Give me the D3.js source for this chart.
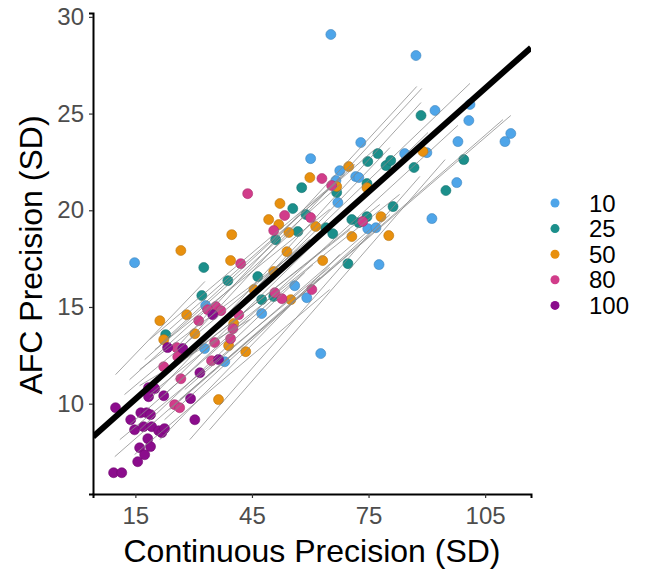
<!DOCTYPE html>
<html>
<head>
<meta charset="utf-8">
<script src="https://cdn.jsdelivr.net/npm/d3@7"></script>
<style>
  body { margin: 0; background: #fff; }
  svg { display: block; }
</style>
</head>
<body>
<svg id="chart" width="666" height="584"></svg>
<script>
// set-size groups and their colours
const groups = ['10', '25', '50', '80', '100']
const groupColors = ['#4EA5E9', '#1B8F8B', '#E8900E', '#D13C8A', '#8B0C8C']

const xTicks = [15, 45, 75, 105]
const yTicks = [10, 15, 20, 25, 30]

// [continuous SD, AFC SD] per group
const points10 = [
  [65.3, 29.09], [87.2, 28.0], [92.1, 25.16], [101.1, 25.47], [100.8, 24.64], [111.6, 23.97],
  [110.1, 23.55], [73.0, 23.5], [98.0, 23.55], [90.0, 22.98], [84.3, 22.93], [60.1, 22.67],
  [67.6, 22.05], [71.7, 21.74], [72.5, 21.69], [66.6, 21.54], [97.7, 21.43], [67.1, 20.4],
  [91.3, 19.57], [74.8, 19.05], [76.9, 19.1], [77.7, 17.19], [59.1, 15.48], [62.7, 12.59],
  [14.8, 17.29], [56.0, 16.1], [47.5, 14.66], [33.1, 15.07], [32.8, 12.85], [38.0, 12.17]
]
const points25 = [
  [88.5, 24.9], [77.4, 22.93], [74.8, 22.52], [79.5, 22.31], [80.7, 22.57], [86.7, 22.21],
  [99.5, 22.62], [94.9, 21.02], [57.8, 21.17], [55.5, 20.09], [58.9, 19.78], [56.8, 18.9],
  [51.1, 18.48], [65.8, 18.79], [66.8, 20.92], [74.6, 21.38], [81.3, 20.19], [64.0, 19.1],
  [70.7, 19.52], [72.5, 19.36], [74.6, 19.67], [69.7, 17.24], [32.6, 17.04], [38.8, 16.36],
  [46.5, 16.57], [47.5, 15.38], [50.6, 15.54], [32.1, 15.59], [22.8, 13.57]
]
const points50 = [
  [59.9, 21.69], [52.2, 20.35], [49.3, 19.52], [51.9, 19.26], [54.5, 18.85], [39.8, 18.74],
  [26.7, 17.92], [69.9, 22.26], [66.8, 21.23], [74.6, 21.17], [89.0, 23.04], [61.4, 19.16],
  [70.7, 18.64], [80.2, 18.69], [78.2, 19.67], [63.2, 17.4], [39.5, 17.4], [54.0, 17.86],
  [50.6, 16.83], [45.5, 15.9], [55.0, 15.38], [28.2, 14.6], [21.3, 14.29], [22.3, 13.31],
  [30.3, 13.62], [40.3, 14.14], [39.0, 13.0], [43.4, 12.69], [36.4, 10.21]
]
const points80 = [
  [43.9, 20.86], [53.4, 19.73], [50.6, 18.95], [63.0, 21.64], [65.5, 21.28], [60.1, 19.62],
  [73.5, 19.42], [60.4, 15.9], [42.1, 17.24], [50.9, 15.74], [52.7, 15.43], [35.7, 15.02],
  [33.6, 14.86], [37.0, 14.81], [31.3, 14.29], [41.6, 14.6], [40.1, 13.88], [39.5, 13.36],
  [35.4, 13.16], [25.6, 12.9], [25.9, 12.43], [34.6, 12.22], [22.3, 11.91], [26.7, 11.29],
  [25.1, 9.95], [26.4, 9.79]
]
const points100 = [
  [34.9, 14.6], [23.3, 12.9], [27.2, 12.85], [36.4, 12.28], [31.6, 11.6], [18.4, 10.83],
  [20.0, 10.78], [18.4, 10.36], [22.3, 10.41], [29.2, 10.26], [9.9, 9.79], [16.4, 9.53],
  [17.9, 9.53], [18.9, 9.43], [13.8, 9.17], [30.3, 9.17], [14.8, 8.65], [17.1, 8.81],
  [19.2, 8.81], [21.0, 8.6], [21.8, 8.5], [22.5, 8.71], [18.2, 8.19], [16.1, 7.72],
  [18.9, 7.78], [17.4, 7.36], [15.6, 7.0], [9.4, 6.43], [11.5, 6.43]
]

// per-participant fits: [x1, y1, x2, y2]
const subjectFits = [
  [9.9, 11.5, 32.9, 16.32], [9.7, 7.26, 62.5, 16.53], [25.1, 12.79, 87.4, 26.4],
  [27.7, 13.06, 88.7, 26.3], [30.3, 12.79, 88.5, 25.57], [21.3, 11.24, 101.1, 26.56],
  [26.4, 10.21, 111.6, 24.9], [23.8, 9.69, 109.6, 24.69], [22.5, 10.47, 98.0, 24.39],
  [25.1, 11.24, 90.3, 24.02], [18.7, 10.21, 80.5, 23.24], [11.0, 8.14, 65.0, 17.05],
  [13.5, 8.91, 60.7, 17.19], [16.1, 8.65, 58.6, 16.78], [18.7, 13.32, 68.9, 21.85],
  [21.3, 13.06, 71.5, 22.37], [17.4, 12.28, 67.6, 21.33], [23.8, 13.84, 76.6, 23.15],
  [14.8, 10.21, 77.9, 20.3], [18.7, 10.47, 83.0, 20.82], [22.5, 9.17, 80.5, 19.78],
  [11.0, 9.69, 70.2, 19.0], [27.7, 10.73, 75.3, 19.0], [16.1, 11.76, 57.3, 17.98],
  [14.8, 7.37, 65.0, 15.9], [21.3, 8.14, 67.6, 17.72], [29.0, 8.14, 88.2, 21.75],
  [34.1, 8.65, 94.7, 22.62], [16.1, 10.93, 44.4, 14.35], [12.2, 10.47, 59.9, 18.5],
  [20.0, 12.79, 65.0, 20.05], [13.5, 11.24, 54.7, 18.75]
]

// overall fit: AFC = intercept + slope * continuous
const fitIntercept = 7.56
const fitSlope = 0.1785

const pointSets = [points10, points25, points50, points80, points100]

const panel = { left: 93, right: 531, top: 13, bottom: 494 }
const fontFamily = '"Liberation Sans", Arial, sans-serif'
const svg = d3.select('#chart')

const x = d3.scaleLinear()
  .domain([4.1, 116.8])
  .range([panel.left, panel.right])

const y = d3.scaleLinear()
  .domain([5.33, 30.2])
  .range([panel.bottom, panel.top])

svg.append('clipPath')
  .attr('id', 'panel-clip')
  .append('rect')
  .attr('x', panel.left)
  .attr('y', panel.top)
  .attr('width', panel.right - panel.left)
  .attr('height', panel.bottom - panel.top)

const plot = svg.append('g').attr('clip-path', 'url(#panel-clip)')

const rows = []
pointSets.forEach((set, i) => set.forEach(p => rows.push({ group: i, cx: p[0], cy: p[1] })))

plot.append('g')
  .selectAll('circle')
  .data(rows)
  .enter().append('circle')
  .attr('cx', d => x(d.cx))
  .attr('cy', d => y(d.cy))
  .attr('r', 5)
  .attr('fill', d => groupColors[d.group])
  .attr('stroke', d => d3.color(groupColors[d.group]).darker(0.6))
  .attr('stroke-width', 0.6)

plot.append('g')
  .selectAll('line')
  .data(subjectFits)
  .enter().append('line')
  .attr('x1', d => x(d[0]))
  .attr('y1', d => y(d[1]))
  .attr('x2', d => x(d[2]))
  .attr('y2', d => y(d[3]))
  .attr('stroke', '#8a8a8a')
  .attr('stroke-opacity', 0.85)
  .attr('stroke-width', 0.9)

const xs = x.domain()
plot.append('line')
  .attr('x1', x(xs[0]))
  .attr('y1', y(fitIntercept + fitSlope * xs[0]))
  .attr('x2', x(xs[1]))
  .attr('y2', y(fitIntercept + fitSlope * xs[1]))
  .attr('stroke', '#000')
  .attr('stroke-width', 6)

// axes
const xAxis = svg.append('g')
  .attr('transform', `translate(0,${panel.bottom})`)
  .call(d3.axisBottom(x).tickValues(xTicks).tickSize(4).tickPadding(9))

const yAxis = svg.append('g')
  .attr('transform', `translate(${panel.left},0)`)
  .call(d3.axisLeft(y).tickValues(yTicks).tickSize(4).tickPadding(5))

;[xAxis, yAxis].forEach(g => {
  g.select('.domain').attr('stroke', '#000').attr('stroke-width', 2)
  g.selectAll('.tick line').attr('stroke', '#333').attr('stroke-width', 1.2)
  g.selectAll('.tick text')
    .attr('fill', '#4D4D4D')
    .style('font-family', fontFamily)
    .style('font-size', '24px')
})

svg.append('text')
  .attr('x', (panel.left + panel.right) / 2)
  .attr('y', 562)
  .attr('text-anchor', 'middle')
  .style('font-family', fontFamily)
  .style('font-size', '32px')
  .text('Continuous Precision (SD)')

svg.append('text')
  .attr('transform', `translate(42,255) rotate(-90)`)
  .attr('text-anchor', 'middle')
  .style('font-family', fontFamily)
  .style('font-size', '32px')
  .text('AFC Precision (SD)')

// legend
const legend = svg.append('g')
  .selectAll('g')
  .data(groups)
  .enter().append('g')
  .attr('transform', (d, i) => `translate(555,${203 + i * 25.6})`)

legend.append('circle')
  .attr('r', 4.5)
  .attr('fill', (d, i) => groupColors[i])

legend.append('text')
  .attr('x', 34)
  .attr('dy', '0.36em')
  .style('font-family', fontFamily)
  .style('font-size', '24px')
  .text(d => d)
</script>
</body>
</html>
